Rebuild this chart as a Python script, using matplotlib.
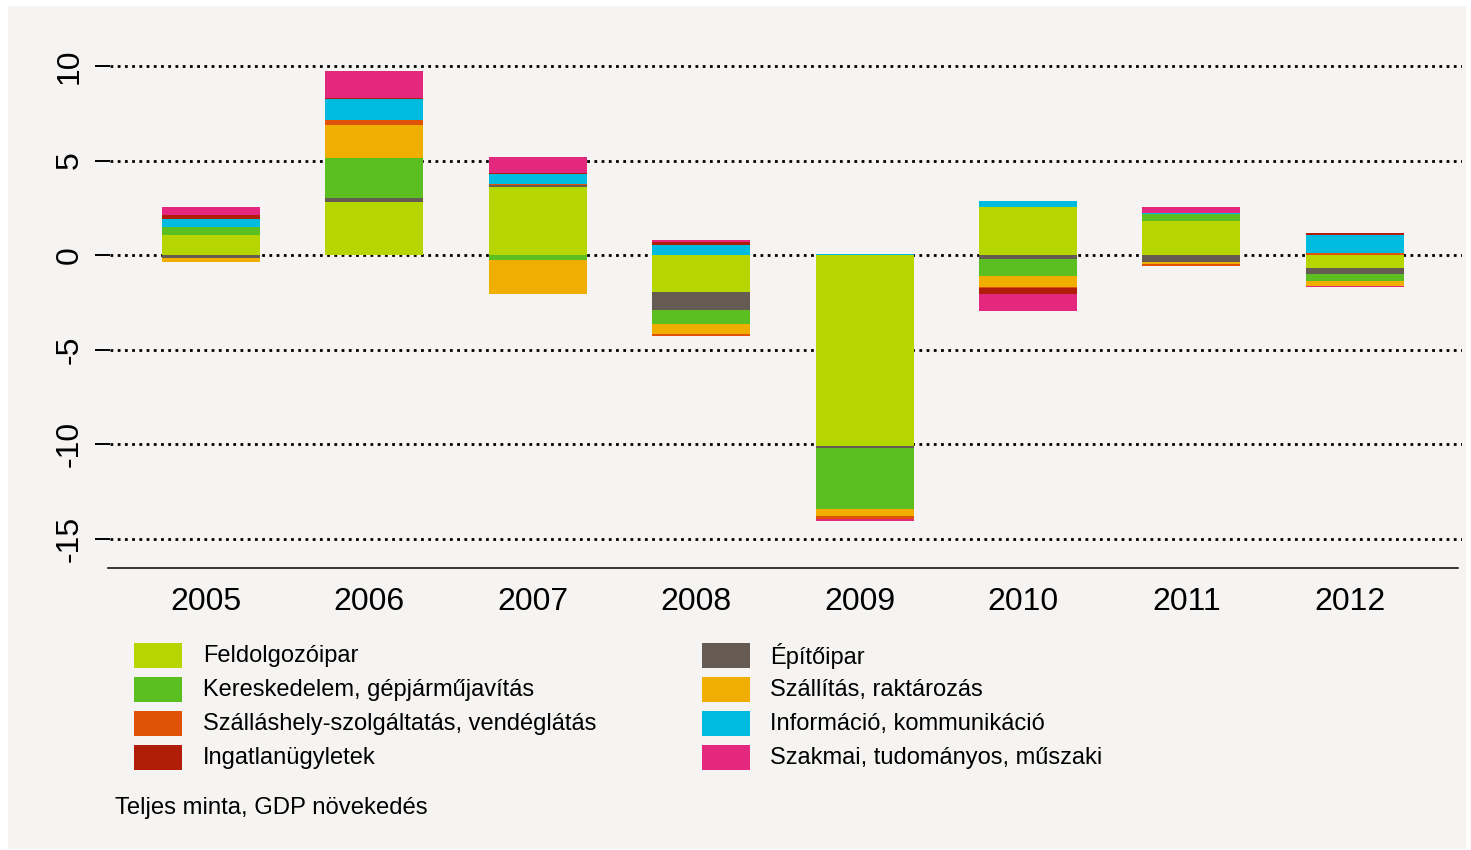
import numpy as np
import matplotlib.pyplot as plt
import matplotlib.transforms as mtransforms
from matplotlib.patches import Rectangle

plt.rcParams['font.family'] = ['Liberation Sans', 'DejaVu Sans']

# adatok
years = ['2005', '2006', '2007', '2008', '2009', '2010', '2011', '2012']
feldolgozo   = [1.06, 2.80, 3.62, -1.98, -10.09, 2.56, 1.80, -0.71]
epitoipar    = [-0.18, 0.19, 0.07, -0.95, -0.12, -0.21, -0.39, -0.28]
kereskedelem = [0.40, 2.15, -0.26, -0.72, -3.23, -0.90, 0.35, -0.39]
szallitas    = [-0.21, 1.75, -1.82, -0.55, -0.35, -0.56, -0.07, -0.26]
szallashely  = [0.03, 0.25, 0.05, -0.07, -0.18, -0.10, -0.10, 0.09]
informacio   = [0.39, 1.09, 0.53, 0.53, 0.05, 0.30, 0.05, 0.97]
ingatlan     = [0.23, 0.10, 0.05, 0.16, 0.00, -0.28, 0.00, 0.09]
szakmai      = [0.42, 1.41, 0.85, 0.12, -0.09, -0.90, 0.34, -0.07]

series = [feldolgozo, epitoipar, kereskedelem, szallitas,
          szallashely, informacio, ingatlan, szakmai]
names = ['Feldolgozóipar', 'Építőipar', 'Kereskedelem, gépjárműjavítás',
         'Szállítás, raktározás', 'Szálláshely-szolgáltatás, vendéglátás',
         'Információ, kommunikáció', 'Ingatlanügyletek',
         'Szakmai, tudományos, műszaki']
colors = ['#b5d600', '#665b52', '#5bbf21', '#f0ae00',
          '#e05206', '#00bbe0', '#b01e0a', '#e5287f']

W, H = 1471, 850
fig = plt.figure(figsize=(W / 100, H / 100), dpi=100)
fig.patch.set_facecolor('white')
bg = '#f5f4f2'
fig.patches.append(Rectangle((8 / W, 1 - 849 / H), (1466 - 8) / W, (849 - 6) / H,
                             transform=fig.transFigure, facecolor=bg,
                             edgecolor='none', zorder=-5))

# tengely pozicio pixelben
left, right, top, bottom = 110, 1462, 38, 568
ax = fig.add_axes([left / W, 1 - bottom / H, (right - left) / W, (bottom - top) / H])
ax.set_facecolor('none')
ax.set_zorder(2)

x = np.arange(len(years))
pos_base = np.zeros(len(years))
neg_base = np.zeros(len(years))
for vals, c in zip(series, colors):
    v = np.array(vals)
    b = np.where(v >= 0, pos_base, neg_base)
    ax.bar(x, v, bottom=b, width=0.6, color=c, linewidth=0, zorder=3)
    pos_base = pos_base + np.where(v > 0, v, 0)
    neg_base = neg_base + np.where(v < 0, v, 0)

# rácsvonalak
for yv in [10, 5, 0, -5, -10, -15]:
    ax.axhline(yv, color='black', lw=2.0, linestyle=(0, (1, 1.6)), zorder=1)

x0 = (left - 211) / 163.4
x1 = (right - 211) / 163.4
ax.set_xlim(x0, x1)
ax.set_ylim(-(bottom - 255) / 18.9, (255 - top) / 18.9)

for s in ['top', 'right', 'left']:
    ax.spines[s].set_visible(False)
ax.spines['bottom'].set_linewidth(1.1)
ax.spines['bottom'].set_bounds(-0.63, 7.63)

ax.set_xticks(x)
ax.set_xticklabels(years, fontsize=23)
ax.tick_params(axis='x', length=0, pad=14)
shift = mtransforms.ScaledTranslation(-5 / 100, 0, fig.dpi_scale_trans)
for lab in ax.get_xticklabels():
    lab.set_transform(lab.get_transform() + shift)
ax.set_yticks([10, 5, 0, -5, -10, -15])
ax.set_yticklabels(['10', '5', '0', '-5', '-10', '-15'], fontsize=23,
                   rotation=90, va='center')
ax.tick_params(axis='y', length=11, width=1.4, pad=7)

# jelmagyarázat
rows = [655, 689, 723, 757]
for i, (n, c) in enumerate(zip(names, colors)):
    col = i % 2
    row = i // 2
    bx = 134 if col == 0 else 702
    tx = 203 if col == 0 else 770
    yc = rows[row]
    fig.patches.append(Rectangle((bx / W, 1 - (yc + 12.5) / H), 48 / W, 25 / H,
                                 transform=fig.transFigure, facecolor=c,
                                 edgecolor='none', zorder=2))
    fig.text(tx / W, 1 - (yc + 1) / H, n, fontsize=17, va='center', ha='left')

fig.text(115 / W, 1 - 808 / H, 'Teljes minta, GDP növekedés', fontsize=17.2,
         va='center', ha='left')

fig.savefig('out.png', dpi=100)
